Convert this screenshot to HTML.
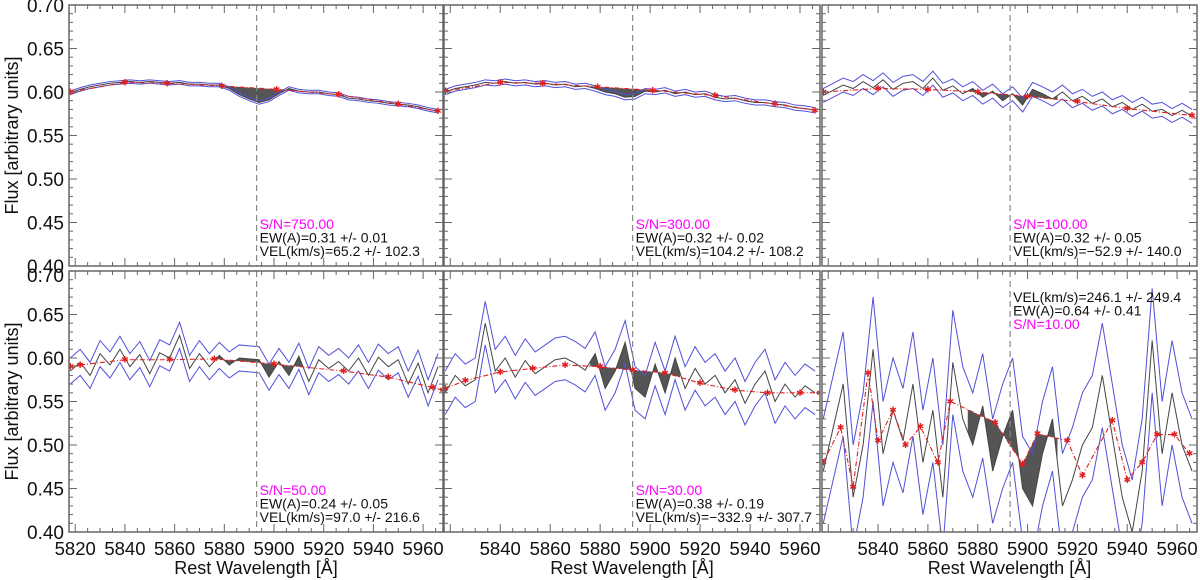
<!DOCTYPE html>
<html><head><meta charset="utf-8"><style>
html,body{margin:0;padding:0;background:#fff;}
svg{display:block;font-family:"Liberation Sans",sans-serif;}
</style></head><body>
<svg id="c" width="1200" height="580" viewBox="0 0 1200 580"></svg>
<script>
const wave=[];for(let w=5818;w<=5966;w+=4)wave.push(w);
const sn=["750.00","300.00","100.00","50.00","30.00","10.00"];
const ew=["0.31 +/- 0.01","0.32 +/- 0.02","0.32 +/- 0.05","0.24 +/- 0.05","0.38 +/- 0.19","0.64 +/- 0.41"];
const vel=["65.2 +/- 102.3","104.2 +/- 108.2","\u221252.9 +/- 140.0","97.0 +/- 216.6","\u2212332.9 +/- 307.7","246.1 +/- 249.4"];
const sigma=[0.002,0.003,0.008,0.015,0.025,0.06];
const flux1=[0.599,0.603,0.606,0.608,0.610,0.611,0.612,0.611,0.612,0.611,0.610,0.611,0.609,0.609,0.608,0.608,0.604,0.597,0.592,0.588,0.591,0.598,0.604,0.601,0.600,0.600,0.598,0.597,0.593,0.592,0.590,0.589,0.587,0.586,0.585,0.583,0.580,0.578];
const flux2=[0.600,0.604,0.606,0.608,0.611,0.610,0.612,0.610,0.611,0.609,0.610,0.608,0.609,0.606,0.607,0.604,0.600,0.598,0.594,0.595,0.601,0.600,0.602,0.598,0.600,0.597,0.598,0.594,0.592,0.593,0.590,0.588,0.588,0.586,0.585,0.582,0.581,0.579];
const flux3=[0.596,0.602,0.608,0.604,0.612,0.605,0.614,0.603,0.610,0.612,0.604,0.616,0.602,0.607,0.598,0.604,0.594,0.601,0.590,0.598,0.585,0.603,0.598,0.592,0.600,0.590,0.595,0.587,0.592,0.583,0.588,0.580,0.586,0.578,0.580,0.573,0.579,0.572];
const flux4=[0.585,0.595,0.580,0.605,0.592,0.610,0.590,0.604,0.582,0.606,0.600,0.626,0.588,0.605,0.590,0.603,0.592,0.600,0.599,0.598,0.578,0.596,0.580,0.602,0.573,0.598,0.588,0.596,0.585,0.600,0.580,0.601,0.590,0.598,0.570,0.594,0.560,0.590];
const flux5=[0.560,0.580,0.568,0.575,0.640,0.585,0.600,0.578,0.597,0.582,0.590,0.598,0.600,0.594,0.586,0.605,0.565,0.585,0.618,0.565,0.555,0.593,0.560,0.600,0.565,0.588,0.570,0.580,0.560,0.575,0.548,0.570,0.585,0.550,0.570,0.555,0.568,0.560];
const flux6=[0.470,0.520,0.570,0.440,0.500,0.610,0.490,0.540,0.505,0.570,0.480,0.540,0.440,0.595,0.530,0.500,0.545,0.470,0.510,0.540,0.450,0.430,0.490,0.530,0.430,0.460,0.500,0.520,0.580,0.510,0.440,0.400,0.470,0.620,0.490,0.560,0.500,0.470];
const contW1=[5818,5840,5857,5879,5901,5926,5950,5966], contF1=[0.600,0.611,0.610,0.607,0.603,0.597,0.586,0.578];
const contW2=[5818,5840,5857,5879,5901,5926,5950,5966], contF2=[0.601,0.611,0.610,0.606,0.602,0.596,0.586,0.579];
const contW3=[5818,5840,5860,5880,5900,5920,5940,5966], contF3=[0.600,0.604,0.603,0.600,0.595,0.589,0.581,0.573];
const contW4=[5818,5822,5840,5858,5876,5900,5928,5946,5964,5968], contF4=[0.590,0.592,0.598,0.598,0.599,0.593,0.585,0.578,0.566,0.563];
const contW5=[5818,5826,5840,5853,5866,5880,5893,5906,5920,5934,5947,5960,5968], contF5=[0.565,0.574,0.584,0.588,0.592,0.590,0.586,0.583,0.571,0.563,0.560,0.560,0.560];
const contW6=[5818,5825,5830,5836,5840,5846,5851,5857,5864,5869,5887,5898,5904,5916,5922,5934,5940,5946,5952,5959,5965],contF6=[0.480,0.520,0.452,0.583,0.505,0.540,0.500,0.521,0.480,0.550,0.526,0.478,0.513,0.505,0.465,0.528,0.460,0.480,0.512,0.512,0.490];
const yTicks=["0.70","0.65","0.60","0.55","0.50","0.45","0.40"];
const xTicks=[5820,5840,5860,5880,5900,5920,5940,5960];
const fluxes=[flux1,flux2,flux3,flux4,flux5,flux6];
const contW=[contW1,contW2,contW3,contW4,contW5,contW6];
const contF=[contF1,contF2,contF3,contF4,contF5,contF6];

const NS="http://www.w3.org/2000/svg";
const svg=document.getElementById('c');
function el(t,a,p){const e=document.createElementNS(NS,t);for(const k in a)e.setAttribute(k,a[k]);(p||svg).appendChild(e);return e;}
const colsX=[[69,443],[444,820],[822,1197]];
const rowsY=[[5,266],[271,532]];
const XMIN=5817.5,XMAX=5968,YMIN=0.40,YMAX=0.70;
function interp(ws,fs,w){if(w<=ws[0])return fs[0];for(let i=1;i<ws.length;i++){if(w<=ws[i]){const t=(w-ws[i-1])/(ws[i]-ws[i-1]);return fs[i-1]+t*(fs[i]-fs[i-1]);}}return fs[fs.length-1];}

for(let p=0;p<6;p++){
  const r=Math.floor(p/3),c=p%3;
  const [x0,x1]=colsX[c],[y0,y1]=rowsY[r];
  const sx=w=>x0+(w-XMIN)/(XMAX-XMIN)*(x1-x0);
  const sy=v=>y1-(v-YMIN)/(YMAX-YMIN)*(y1-y0);
  const g=el('g',{});
  
  
  const cp=el('clipPath',{id:'cp'+p},g);el('rect',{x:x0,y:y0,width:x1-x0,height:y1-y0},cp);
  const pg=el('g',{'clip-path':'url(#cp'+p+')'},g);
  const f=fluxes[p];
  const sw=[],sf=[];
  for(let w=5876;w<=5912;w+=1){sw.push(w);sf.push(interp(wave,f,w));}
  let d='M'+sw.map((w,i)=>sx(w)+','+sy(sf[i])).join(' L');
  for(let i=sw.length-1;i>=0;i--)d+=' L'+sx(sw[i])+','+sy(interp(contW[p],contF[p],sw[i]));
  const sh=el('path',{d:d+'Z',fill:'#555'},pg);
  
  
  const pts=k=>wave.map((w,i)=>sx(w)+','+sy(f[i]+k*sigma[p])).join(' ');
  const up=el('polyline',{points:pts(1),fill:'none',stroke:'#5050d8','stroke-width':1},pg);
  
  
  const lo=el('polyline',{points:pts(-1),fill:'none',stroke:'#5050d8','stroke-width':1},pg);
  
  
  const sp=el('polyline',{points:pts(0),fill:'none',stroke:'#444','stroke-width':1},pg);
  
  
  const cl=el('polyline',{points:contW[p].map((w,i)=>sx(w)+','+sy(contF[p][i])).join(' '),fill:'none',stroke:'#e02020','stroke-width':1.1,'stroke-dasharray':'5,2,1,2'},pg);
  
  
  contW[p].forEach((w,i)=>{
    const m=el('text',{x:sx(w),y:sy(contF[p][i])+3,'font-size':9,fill:'#e02020','text-anchor':'middle'},pg);
    m.textContent='\u2731';
    
    
  });
  const nd=el('line',{x1:sx(5893),x2:sx(5893),y1:y0,y2:y1,stroke:'#888','stroke-dasharray':'6,4','stroke-width':1.2},g);
  
  
  const fr=el('rect',{x:x0,y:y0,width:x1-x0,height:y1-y0,fill:'none',stroke:'#666','stroke-width':1.5},g);
  
  
  for(let v=0.40;v<=0.7001;v+=0.01){const maj=Math.round(v*100)%5===0;const L=maj?8:4;
    el('line',{x1:x0,x2:x0+L,y1:sy(v),y2:sy(v),stroke:'#666'},g);el('line',{x1:x1,x2:x1-L,y1:sy(v),y2:sy(v),stroke:'#666'},g);}
  for(let w=5820;w<=5965;w+=5){const maj=w%20===0;const L=maj?8:4;
    el('line',{x1:sx(w),x2:sx(w),y1:y1,y2:y1-L,stroke:'#666'},g);el('line',{x1:sx(w),x2:sx(w),y1:y0,y2:y0+L,stroke:'#666'},g);}
  if(c===0){yTicks.forEach(t=>{const tx=el('text',{x:64,y:sy(+t)+(r===1&&t==="0.70"?11:7),'font-size':19,'text-anchor':'end',fill:'#111'},g);tx.textContent=t;
    
    });
    const yt=el('text',{x:0,y:0,'font-size':18,'text-anchor':'middle',fill:'#111',transform:'translate(18,'+((y0+y1)/2)+') rotate(-90)'},g);
    yt.textContent='Flux [arbitrary units]';
    
    }
  if(r===1){xTicks.forEach(w=>{if(c>0&&w===5820)return;const tx=el('text',{x:sx(w),y:555,'font-size':18.5,'text-anchor':'middle',fill:'#111'},g);tx.textContent=w;
    
    });
    const xt=el('text',{x:(x0+x1)/2,y:574,'font-size':18,'text-anchor':'middle',fill:'#111'},g);
    xt.textContent='Rest Wavelength [\u00c5]';
    
    }
  const tx0=sx(5893)+3;
  const lines=[['S/N='+sn[p],'#ff00ff'],['EW(A)='+ew[p],'#111'],['VEL(km/s)='+vel[p],'#111']];
  const order=p===5?[2,1,0]:[0,1,2];
  const baseY=p===5?y0+31:y1-37;
  order.forEach((li,k)=>{const t=el('text',{x:tx0,y:baseY+k*13.5,'font-size':14,fill:lines[li][1]},g);t.textContent=lines[li][0];
    
    });
}
</script>
</body></html>
